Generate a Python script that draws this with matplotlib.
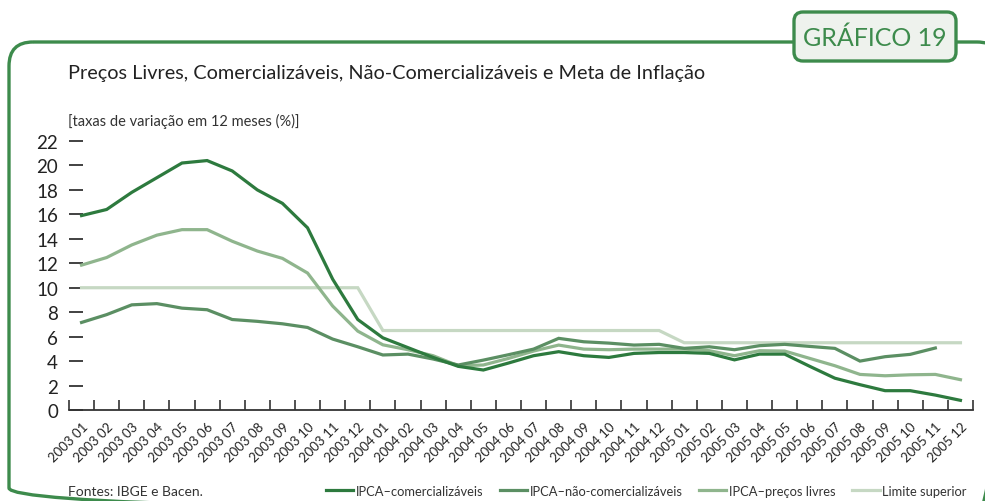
import matplotlib
matplotlib.use("Agg")
import matplotlib.pyplot as plt
import numpy as np
from matplotlib.patches import FancyBboxPatch

plt.rcParams['font.family'] = ['Lato', 'DejaVu Sans']

months = [f"{y} {m:02d}" for y in (2003, 2004, 2005) for m in range(1, 13)]

comercializaveis = [15.9, 16.4, 17.8, 19.0, 20.2, 20.4, 19.55, 18.0, 16.9, 14.9, 10.7, 7.4,
                    5.9, 5.1, 4.3, 3.57, 3.27, 3.84, 4.44, 4.77, 4.44, 4.3, 4.63, 4.7,
                    4.7, 4.63, 4.1, 4.57, 4.57, 3.57, 2.6, 2.07, 1.58, 1.58, 1.22, 0.79]
nao_comercializaveis = [7.16, 7.8, 8.6, 8.7, 8.33, 8.2, 7.4, 7.25, 7.05, 6.75, 5.8, 5.17,
                        4.5, 4.57, 4.17, 3.68, 4.08, 4.52, 4.98, 5.86, 5.58, 5.47, 5.31, 5.37,
                        5.04, 5.17, 4.93, 5.26, 5.37, 5.2, 5.04, 4.0, 4.36, 4.55, 5.07, np.nan]
precos_livres = [11.85, 12.47, 13.5, 14.3, 14.75, 14.75, 13.8, 13.0, 12.4, 11.2, 8.5, 6.45,
                 5.33, 4.93, 4.44, 3.62, 3.68, 4.22, 4.82, 5.31, 4.98, 4.93, 4.98, 4.98,
                 4.98, 4.85, 4.44, 4.85, 4.82, 4.22, 3.62, 2.91, 2.8, 2.88, 2.91, 2.48]
limite_superior = [10.0] * 12 + [6.5] * 12 + [5.5] * 12

series = [
    ("IPCA\u2013comercializáveis", comercializaveis, "#2d7a3e"),
    ("IPCA\u2013não-comercializáveis", nao_comercializaveis, "#5b8f63"),
    ("IPCA\u2013preços livres", precos_livres, "#8fb58d"),
    ("Limite superior", limite_superior, "#c6d8c3"),
]

W, H = 985, 502
fig = plt.figure(figsize=(W / 100, H / 100), dpi=100)

bg = fig.add_axes([0, 0, 1, 1])
bg.set_xlim(0, W)
bg.set_ylim(H, 0)
bg.axis('off')
green = "#3d8b4c"
bg.add_patch(FancyBboxPatch((9, 43), 992, 470, boxstyle="round,pad=0,rounding_size=24",
                            fill=False, ec=green, lw=2.4, clip_on=False))
bg.add_patch(FancyBboxPatch((794, 13), 162, 49, boxstyle="round,pad=0,rounding_size=9",
                            fc="#eef2ed", ec=green, lw=2.4, zorder=3))
bg.text(875, 38, "GRÁFICO 19", color=green, fontsize=18, ha='center', va='center', zorder=4)
bg.text(68, 73, "Preços Livres, Comercializáveis, Não-Comercializáveis e Meta de Inflação",
        fontsize=14.3, color="#222222", ha='left', va='center')
bg.text(68, 121, "[taxas de variação em 12 meses (%)]", fontsize=10.5, color="#333333",
        ha='left', va='center')
bg.text(68, 492, "Fontes: IBGE e Bacen.", fontsize=10, color="#333333", ha='left', va='center')

ax = fig.add_axes([69 / W, (H - 411) / H, (973 - 69) / W, (411 - 142) / H])
ax.patch.set_alpha(0)
x = np.arange(len(months))
for label, vals, col in series[::-1]:
    ax.plot(x, vals, color=col, lw=2.3, label=label, solid_joinstyle='miter')

ax.set_xlim(-0.5, len(months) - 0.5)
ax.set_ylim(0, 22)
ax.set_yticks(np.arange(0, 23, 2))
ax.tick_params(axis='y', direction='in', length=10, width=1.3, color="#333333",
               labelsize=13.5, pad=8, labelcolor="#222222")
ax.set_xticks(x)
ax.set_xticklabels(months, rotation=45, ha='right', rotation_mode='anchor', fontsize=9.5,
                   color="#222222")
ax.set_xticks(np.arange(-0.5, len(months), 1), minor=True)
ax.tick_params(axis='x', which='major', length=0, pad=7)
ax.tick_params(axis='x', which='minor', direction='in', length=7, width=1.2, color="#333333")
for s in ('top', 'right', 'left'):
    ax.spines[s].set_visible(False)
ax.spines['bottom'].set_color("#333333")
ax.spines['bottom'].set_linewidth(1.3)

handles, labels = ax.get_legend_handles_labels()
leg = fig.legend(handles[::-1], labels[::-1], ncol=4, loc='center right',
                 bbox_to_anchor=(973 / W, 1 - 492 / H), frameon=False, fontsize=9.3,
                 handlelength=2.1, handletextpad=0.2, columnspacing=1.3, borderpad=0)
for t in leg.get_texts():
    t.set_color("#333333")

fig.savefig("out.png", dpi=100)
